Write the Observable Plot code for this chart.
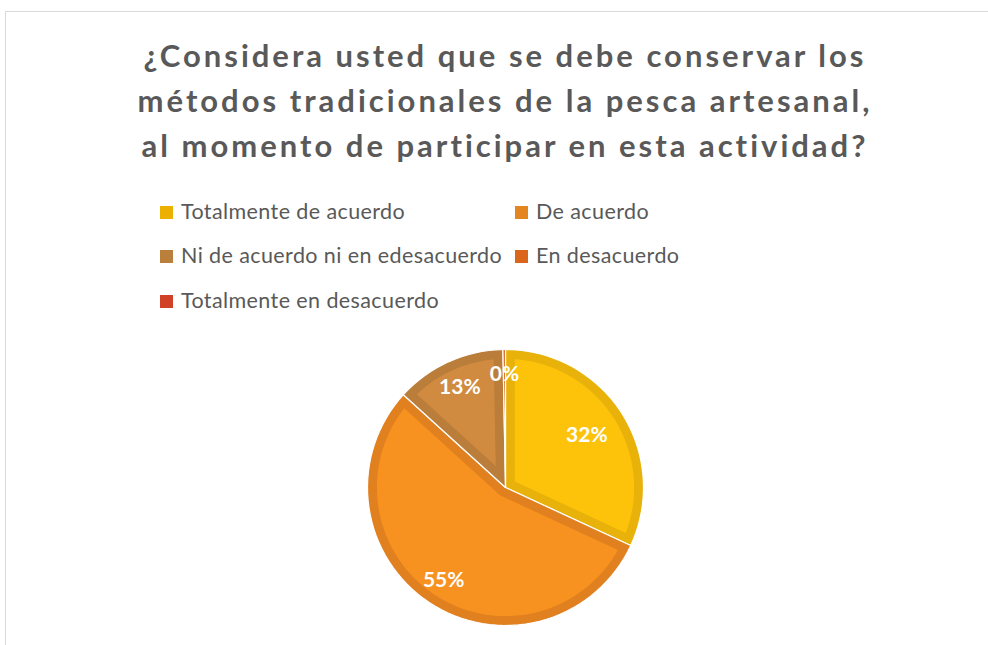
<!DOCTYPE html>
<html>
<head>
<meta charset="utf-8">
<script src="https://cdn.jsdelivr.net/npm/d3@7"></script>
<script src="https://cdn.jsdelivr.net/npm/@observablehq/plot@0.6"></script>
<style>
  html, body { margin: 0; padding: 0; background: #fff; }
  body { width: 988px; height: 645px; position: relative; overflow: hidden; font-family: Lato, "Open Sans", sans-serif; }
  #frame { position: absolute; left: 5px; top: 11px; width: 1100px; height: 800px; border: 1px solid #d9d9d9; box-sizing: border-box; }
  #title { position: absolute; left: 0; top: 33px; width: 1010px; text-align: center; color: #595959; font-weight: 700; font-size: 31px; line-height: 45px; letter-spacing: 3px; }
  .leg { position: absolute; color: #595959; font-size: 21.5px; line-height: 24px; letter-spacing: 0.4px; white-space: nowrap; }
  .leg span.sw { display: inline-block; width: 13px; height: 13px; margin-right: 8px; vertical-align: 0px; }
  #chart { position: absolute; left: 355px; top: 337px; }
</style>
</head>
<body>
<div id="frame"></div>
<div id="title"></div>
<div id="legend"></div>
<div id="chart"></div>
<script>
// ---- data ----
const titleLines = [
  "¿Considera usted que se debe conservar los",
  "métodos tradicionales de la pesca artesanal,",
  "al momento de participar en esta actividad?"
];
const categories = [
  "Totalmente de acuerdo",
  "De acuerdo",
  "Ni de acuerdo ni en edesacuerdo",
  "En desacuerdo",
  "Totalmente en desacuerdo"
];
const values = [32, 55, 13, 0.3, 0];

// ---- styles ----
const bandColors = ["#E8B20A", "#E0801F", "#BA7E3A", "#D9661A", "#D14127"];
const fillColors = ["#FDC30B", "#F7911F", "#D18B40", "#E06D1C", "#D94A2C"];
const legendColors = ["#EBB000", "#E3861F", "#BB7F3C", "#D9661A", "#D14127"];

// title
document.getElementById("title").innerHTML = titleLines.map(l => `<div>${l}</div>`).join("");

// legend (two columns, Excel style)
const legPos = [[160, 199], [515, 199], [160, 243], [515, 243], [160, 288]];
document.getElementById("legend").innerHTML = categories.map((c, i) =>
  `<div class="leg" style="left:${legPos[i][0]}px;top:${legPos[i][1]}px"><span class="sw" style="background:${legendColors[i]}"></span>${c}</div>`
).join("");

// ---- pie geometry (unit radius, angles clockwise from 12 o'clock) ----
const total = d3.sum(values);
const pie = d3.pie().sort(null).value(d => d)(values);
const R = 1, d = 0.068, STEPS = 120;
const pt = (a, r) => [r * Math.sin(a), r * Math.cos(a)];

const outer = [], inner = [];
pie.forEach((p, i) => {
  const a0 = p.startAngle, a1 = p.endAngle, s = a1 - a0;
  if (s <= 0) return;
  const cat = categories[i];
  // outer wedge (darker band colour)
  outer.push({cat, x: 0, y: 0, c: bandColors[i]});
  const n = Math.max(2, Math.ceil(STEPS * s / (2 * Math.PI)));
  for (let k = 0; k <= n; k++) {
    const [x, y] = pt(a0 + s * k / n, R);
    outer.push({cat, x, y, c: bandColors[i]});
  }
  // inset wedge (lighter fill)
  const da = Math.asin(d / (R - d));
  if (s / 2 <= da * 1.3) return;
  const pts = [];
  if (s < Math.PI) {
    pts.push(pt((a0 + a1) / 2, d / Math.sin(s / 2)));
  } else {
    // reflex wedge: round the inner corner with an arc of radius d around the centre
    const b0 = a1 - Math.PI / 2, b1 = a0 + Math.PI / 2;
    const m = 12;
    for (let k = 0; k <= m; k++) pts.push(pt(b0 + (b1 - b0) * k / m, d));
  }
  const ia0 = a0 + da, ia1 = a1 - da;
  for (let k = 0; k <= n; k++) pts.push(pt(ia0 + (ia1 - ia0) * k / n, R - d));
  pts.forEach(([x, y]) => inner.push({cat, x, y, c: fillColors[i]}));
});

// labels
const labelR = [0.70, 0.81, 0.80, 0.82, 0.82];
const labels = pie.map((p, i) => {
  const a = (p.startAngle + p.endAngle) / 2;
  const [x, y] = pt(a, labelR[i]);
  return {x, y, text: Math.round(values[i] / total * 100) + "%", v: values[i]};
}).filter(l => l.v > 0);

const k = 150 / 138;
const chart = Plot.plot({
  width: 300, height: 300, margin: 0,
  x: {domain: [-k, k], axis: null},
  y: {domain: [-k, k], axis: null},
  color: {type: "identity"},
  style: {background: "transparent", overflow: "visible"},
  marks: [
    Plot.line(outer, {x: "x", y: "y", z: "cat", fill: "c", stroke: "white", strokeWidth: 1.2, curve: "linear-closed"}),
    Plot.line(inner, {x: "x", y: "y", z: "cat", fill: "c", stroke: "none", curve: "linear-closed"}),
    Plot.text(labels, {x: "x", y: "y", text: "text", fill: "white", fontSize: 21, fontWeight: "bold", fontFamily: "Lato, sans-serif"})
  ]
});
document.getElementById("chart").appendChild(chart);
</script>
</body>
</html>
